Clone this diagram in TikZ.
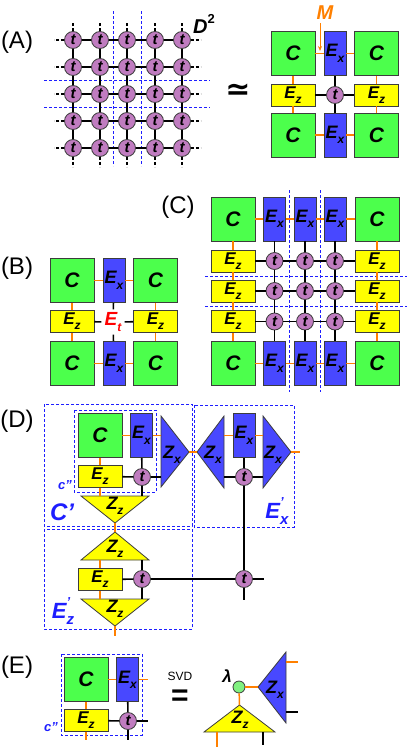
\documentclass[tikz,border=0pt]{standalone}
\usepackage{fontspec}
\setmainfont{Liberation Sans}
\newfontfamily\djv{DejaVu Sans}
\usetikzlibrary{arrows.meta}
\definecolor{cgreen}{RGB}{76,255,76}
\definecolor{eblue}{RGB}{72,72,255}
\definecolor{ey}{RGB}{255,255,0}
\definecolor{tp}{RGB}{192,124,192}
\definecolor{org}{RGB}{255,128,0}
\definecolor{bdr}{RGB}{60,60,60}
\definecolor{dblue}{RGB}{30,30,255}
\definecolor{lg}{RGB}{128,240,128}
\newcommand\mysub[2]{#1\raisebox{-0.3em}{\fontsize{12}{12}\selectfont #2}}
\newcommand\mysubpr[2]{#1\makebox[0pt][l]{\raisebox{0.55em}{\fontsize{13}{13}\selectfont '}}\raisebox{-0.3em}{\fontsize{15}{15}\selectfont #2}}
\begin{document}
\begin{tikzpicture}[x=1pt,y=-1pt,
 Cb/.style={draw=bdr, line width=0.8pt, fill=cgreen, minimum width=44pt, minimum height=44pt, inner sep=0pt, font=\fontsize{21}{21}\selectfont\bfseries\itshape},
 Xb/.style={draw=bdr, line width=0.8pt, fill=eblue, minimum width=22pt, minimum height=44pt, inner sep=0pt, font=\fontsize{18}{18}\selectfont\bfseries\itshape},
 Zb/.style={draw=bdr, line width=0.8pt, fill=ey, minimum width=44pt, minimum height=22pt, inner sep=0pt, font=\fontsize{17}{17}\selectfont\bfseries\itshape},
 tn/.style={circle, draw=bdr, line width=0.8pt, fill=tp, minimum size=17pt, inner sep=0pt, font=\fontsize{15}{15}\selectfont\bfseries\itshape},
 oc/.style={draw=org, line width=1.5pt},
 bc/.style={draw=black, line width=1.6pt},
 bd/.style={draw=black, line width=1.6pt, dash pattern=on 3pt off 2pt},
 gridl/.style={draw=dblue, line width=1pt, dash pattern=on 3pt off 2pt},
 pl/.style={font=\fontsize{24}{24}\selectfont},
 tri/.style={draw=bdr, line width=0.8pt},
 zl/.style={font=\fontsize{18}{18}\selectfont\bfseries\itshape},
 bl/.style={text=dblue, font=\fontsize{24}{24}\selectfont\bfseries\itshape},
]
\useasboundingbox (0,0) rectangle (411,747);

% ---------------- (A)
\node[pl] (la) at (17,42) {(A)};
\draw[gridl] (113.5,11) -- (113.5,166);
\draw[gridl] (141.5,11) -- (141.5,166);
\draw[gridl] (44,80.5) -- (210,80.5);
\draw[gridl] (44,107.5) -- (210,107.5);
\foreach \i/\x in {1/73,2/100,3/127,4/155,5/182}
  \foreach \j/\y in {1/40,2/67,3/94,4/121,5/148}
    \node[tn] (a\i\j) at (\x,\y) {t};
\foreach \i in {1,...,5}{
  \foreach \j/\k in {1/2,2/3,3/4,4/5}{
    \draw[bc] (a\i\j) -- (a\i\k);
    \draw[bc] (a\j\i) -- (a\k\i);
  }
  \draw[bd] (a\i1.north) -- ++(0,-10);
  \draw[bd] (a\i5.south) -- ++(0,10);
  \draw[bd] (a1\i.west) -- ++(-10,0);
  \draw[bd] (a5\i.east) -- ++(10,0);
}
\node[font=\fontsize{20}{20}\selectfont\bfseries\itshape] (d2) at (204,24) {D\raisebox{0.5em}{\fontsize{13}{13}\selectfont\upshape 2}};
\node[font=\djv\bfseries\fontsize{30}{30}\selectfont] (sim) at (238,92) {≃};

\node[Cb] (ac1) at (293,53.5) {C};
\node[Xb] (ax1) at (335,53.5) {\mysub{E}{x}};
\node[Cb] (ac2) at (376.5,53.5) {C};
\node[Zb] (az1) at (293,95) {\mysub{E}{z}};
\node[tn] (at) at (335,95) {t};
\node[Zb] (az2) at (376.5,95) {\mysub{E}{z}};
\node[Cb] (ac3) at (293,135) {C};
\node[Xb] (ax2) at (335,135) {\mysub{E}{x}};
\node[Cb] (ac4) at (376.5,135) {C};
\draw[oc] (ac1) -- (ax1); \draw[oc] (ax1) -- (ac2);
\draw[oc] (ac3) -- (ax2); \draw[oc] (ax2) -- (ac4);
\draw[oc] (ac1) -- (az1); \draw[oc] (az1) -- (ac3);
\draw[oc] (ac2) -- (az2); \draw[oc] (az2) -- (ac4);
\draw[bc] (ax1) -- (at); \draw[bc] (at) -- (ax2);
\draw[bc] (az1) -- (at); \draw[bc] (at) -- (az2);
\node[text=org, font=\fontsize{20}{20}\selectfont\bfseries\itshape] (m) at (325,13) {M};
\coordinate (mt) at (320,51);
\draw[org, line width=0.8pt, -{Stealth[length=5pt,width=4pt]}] (m.south -| mt) -- (mt);

% ---------------- (B)
\node[pl] (lb) at (17,268) {(B)};
\node[Cb] (bc1) at (72,280.5) {C};
\node[Xb] (bx1) at (114,280.5) {\mysub{E}{x}};
\node[Cb] (bc2) at (155.5,280.5) {C};
\node[Zb] (bz1) at (72,321.5) {\mysub{E}{z}};
\node[text=red, font=\fontsize{19}{19}\selectfont\bfseries\itshape, inner sep=3pt] (bt) at (113,322) {\mysub{E}{t}};
\node[Zb] (bz2) at (155.5,321.5) {\mysub{E}{z}};
\node[Cb] (bc3) at (72,363.5) {C};
\node[Xb] (bx2) at (114,363.5) {\mysub{E}{x}};
\node[Cb] (bc4) at (155.5,363.5) {C};
\draw[oc] (bc1) -- (bx1); \draw[oc] (bx1) -- (bc2);
\draw[oc] (bc3) -- (bx2); \draw[oc] (bx2) -- (bc4);
\draw[oc] (bc1) -- (bz1); \draw[oc] (bz1) -- (bc3);
\draw[oc] (bc2) -- (bz2); \draw[oc] (bz2) -- (bc4);
\draw[bc] (bx1) -- (bt); \draw[bc] (bt) -- (bx2);
\draw[bc] (bz1) -- (bt); \draw[bc] (bt) -- (bz2);

% ---------------- (C)
\node[pl] (lc) at (178,207) {(C)};
\draw[gridl] (289.5,190) -- (289.5,392);
\draw[gridl] (320.5,190) -- (320.5,392);
\draw[gridl] (205,276) -- (407,276);
\draw[gridl] (205,306) -- (407,306);
\node[Cb] (cc1) at (233,219) {C};
\node[Cb] (cc2) at (377,219) {C};
\node[Cb] (cc3) at (233,363.5) {C};
\node[Cb] (cc4) at (377,363.5) {C};
\foreach \i/\x in {1/274.5,2/305,3/335}{
  \node[Xb] (cxt\i) at (\x,219) {\mysub{E}{x}};
  \node[Xb] (cxb\i) at (\x,363.5) {\mysub{E}{x}};
}
\foreach \j/\y in {1/261,2/291,3/321.5}{
  \node[Zb] (czl\j) at (233,\y) {\mysub{E}{z}};
  \node[Zb] (czr\j) at (377,\y) {\mysub{E}{z}};
  \foreach \i/\x in {1/274.5,2/305,3/335}
    \node[tn] (ct\i\j) at (\x,\y) {t};
}
\draw[oc] (cc1) -- (cxt1); \draw[oc] (cxt1) -- (cxt2); \draw[oc] (cxt2) -- (cxt3); \draw[oc] (cxt3) -- (cc2);
\draw[oc] (cc3) -- (cxb1); \draw[oc] (cxb1) -- (cxb2); \draw[oc] (cxb2) -- (cxb3); \draw[oc] (cxb3) -- (cc4);
\draw[oc] (cc1) -- (czl1); \draw[oc] (czl1) -- (czl2); \draw[oc] (czl2) -- (czl3); \draw[oc] (czl3) -- (cc3);
\draw[oc] (cc2) -- (czr1); \draw[oc] (czr1) -- (czr2); \draw[oc] (czr2) -- (czr3); \draw[oc] (czr3) -- (cc4);
\foreach \j in {1,2,3}{
  \draw[bc] (czl\j) -- (ct1\j); \draw[bc] (ct1\j) -- (ct2\j); \draw[bc] (ct2\j) -- (ct3\j); \draw[bc] (ct3\j) -- (czr\j);
}
\foreach \i in {1,2,3}{
  \draw[bc] (cxt\i) -- (ct\i1); \draw[bc] (ct\i1) -- (ct\i2); \draw[bc] (ct\i2) -- (ct\i3); \draw[bc] (ct\i3) -- (cxb\i);
}

% ---------------- (D)
\node[pl] (ld) at (17,421) {(D)};
\draw[gridl] (44,404) rectangle (192,526);
\draw[gridl] (194,405) rectangle (294,527);
\draw[gridl] (44,529) rectangle (192,629);
\draw[gridl] (74,410) rectangle (156,492);
\node[Cb] (dc) at (100,435.5) {C};
\node[Xb] (dx) at (141.5,435.5) {\mysub{E}{x}};
\node[Zb] (dz) at (100,476.5) {\mysub{E}{z}};
\node[tn] (dt) at (142,477) {t};
% triangles
\filldraw[tri, fill=eblue] (161,416) -- (161,487) -- (189,452) -- cycle;
\node[zl] (zx1) at (172,455) {\mysub{Z}{x}};
\filldraw[tri, fill=eblue] (224,416) -- (224,488) -- (197,452) -- cycle;
\node[zl] (zx2) at (213,455) {\mysub{Z}{x}};
\filldraw[tri, fill=eblue] (263,416) -- (263,488) -- (291,452) -- cycle;
\node[zl] (zx3) at (273,455) {\mysub{Z}{x}};
\filldraw[tri, fill=ey] (81,496) -- (149,496) -- (115,523) -- cycle;
\node[zl] (zz1) at (115,506) {\mysub{Z}{z}};
\filldraw[tri, fill=ey] (115,532) -- (81,560) -- (149,560) -- cycle;
\node[zl] (zz2) at (115,549) {\mysub{Z}{z}};
\filldraw[tri, fill=ey] (81,599) -- (149,599) -- (115,626) -- cycle;
\node[zl] (zz3) at (115,609) {\mysub{Z}{z}};
\coordinate (zx1ex) at (161,435.5);
\coordinate (zx1w) at (161,477);
\coordinate (zx1tip) at (189,452);
\coordinate (zx2tip) at (197,452);
\coordinate (zx2ex) at (224,435.5);
\coordinate (zx2w) at (224,477);
\coordinate (zx3ex) at (263,435.5);
\coordinate (zx3w) at (263,477);
\coordinate (zx3tip) at (291,452);
\coordinate (zx3o) at (300,452);
\coordinate (zz1a) at (100,496);
\coordinate (zz1b) at (142,496);
\coordinate (zz1tip) at (115,523);
\coordinate (zz2tip) at (115,532);
\coordinate (zz2a) at (100,560);
\coordinate (zz2b) at (142,560);
\coordinate (zz3a) at (100,599);
\coordinate (zz3b) at (142,599);
\coordinate (zz3tip) at (115,626);
\coordinate (zz3o) at (115,636);
\node[Xb] (dx2) at (244,435.5) {\mysub{E}{x}};
\node[tn] (dt2) at (244,477) {t};
\node[Zb] (dz2) at (100,579.5) {\mysub{E}{z}};
\node[tn] (dt3) at (142,579) {t};
\node[tn] (dt4) at (244,579) {t};
\coordinate (dt4s) at (244,600);
\coordinate (dt4e) at (264,579);
\draw[oc] (dc) -- (dx); \draw[oc] (dx) -- (zx1ex);
\draw[oc] (dc) -- (dz); \draw[oc] (dz) -- (zz1a);
\draw[bc] (dx) -- (dt); \draw[bc] (dz) -- (dt); \draw[bc] (dt) -- (zx1w); \draw[bc] (dt) -- (zz1b);
\draw[oc] (zx1tip) -- (zx2tip);
\draw[oc] (zz1tip) -- (zz2tip);
\draw[oc] (zx2ex) -- (dx2); \draw[oc] (dx2) -- (zx3ex); \draw[oc] (zx3tip) -- (zx3o);
\draw[bc] (dx2) -- (dt2); \draw[bc] (zx2w) -- (dt2); \draw[bc] (dt2) -- (zx3w);
\draw[bc] (dt2) -- (dt4); \draw[bc] (dt4) -- (dt4s); \draw[bc] (dt4) -- (dt4e);
\draw[oc] (zz2a) -- (dz2); \draw[oc] (dz2) -- (zz3a); \draw[oc] (zz3tip) -- (zz3o);
\draw[bc] (zz2b) -- (dt3); \draw[bc] (dt3) -- (zz3b); \draw[bc] (dz2) -- (dt3); \draw[bc] (dt3) -- (dt4);
\node[bl] (lcp) at (62,512) {C'};
\node[bl, font=\fontsize{22}{22}\selectfont\bfseries\itshape] (lezp) at (63,611) {\mysubpr{E}{z}};
\node[bl, font=\fontsize{22}{22}\selectfont\bfseries\itshape] (lexp) at (277,511) {\mysubpr{E}{x}};
\node[text=dblue, font=\fontsize{13}{13}\selectfont\bfseries\itshape] (lcpp) at (65,485) {c''};

% ---------------- (E)
\node[pl] (le) at (17,667) {(E)};
\draw[gridl] (61,654) rectangle (142,735);
\node[Cb] (ec) at (86,679.5) {C};
\node[Xb] (ex) at (127.5,679.5) {\mysub{E}{x}};
\node[Zb] (ez) at (86,720.5) {\mysub{E}{z}};
\node[tn] (et) at (128,721) {t};
\coordinate (exo) at (148,679.5);
\coordinate (ezo) at (86,740);
\coordinate (eto) at (148,721);
\coordinate (ets) at (128,740);
\draw[oc] (ec) -- (ex); \draw[oc] (ex) -- (exo);
\draw[oc] (ec) -- (ez); \draw[oc] (ez) -- (ezo);
\draw[bc] (ex) -- (et); \draw[bc] (ez) -- (et); \draw[bc] (et) -- (eto); \draw[bc] (et) -- (ets);
\node[text=dblue, font=\fontsize{13}{13}\selectfont\bfseries\itshape] (lcpp2) at (51,727) {c''};
\node[font=\fontsize{12}{12}\selectfont] (svd) at (180,676) {SVD};
\node[font=\fontsize{30}{30}\selectfont\bfseries, inner sep=0pt] (eq) at (180,698) {=};
\filldraw[tri, fill=eblue] (258,687) -- (286,652) -- (286,723) -- cycle;
\node[zl] (ezx) at (275,690) {\mysub{Z}{x}};
\filldraw[tri, fill=ey] (239.5,705) -- (204,732) -- (275,732) -- cycle;
\node[zl] (ezz) at (240,720) {\mysub{Z}{z}};
\node[circle, draw=bdr, line width=0.8pt, fill=lg, minimum size=12pt, inner sep=0pt] (lam) at (239,687) {};
\node[font=\fontsize{17}{17}\selectfont\bfseries\itshape] (llam) at (227,676) {λ};
\coordinate (ezxtip) at (258,687);
\coordinate (ezztip) at (239.5,705);
\coordinate (ezx1a) at (286,662);
\coordinate (ezx1b) at (298,662);
\coordinate (ezx2a) at (286,712);
\coordinate (ezx2b) at (298,712);
\coordinate (ezz1a) at (217,732);
\coordinate (ezz1b) at (217,747);
\coordinate (ezz2a) at (263,732);
\coordinate (ezz2b) at (263,745);
\draw[oc] (lam) -- (ezxtip); \draw[oc] (lam) -- (ezztip);
\draw[oc] (ezx1a) -- (ezx1b); \draw[bc] (ezx2a) -- (ezx2b);
\draw[oc] (ezz1a) -- (ezz1b); \draw[bc] (ezz2a) -- (ezz2b);
\end{tikzpicture}
\end{document}
